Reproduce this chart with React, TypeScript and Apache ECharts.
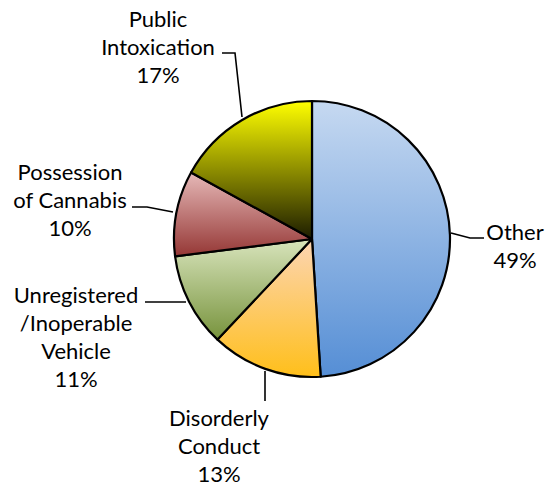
import React, { useEffect, useRef } from "react";
import * as echarts from "echarts";

const categories = [
  "Other",
  "Disorderly\nConduct",
  "Unregistered\n/Inoperable\nVehicle",
  "Possession\nof Cannabis",
  "Public\nIntoxication",
];
const values = [49, 13, 11, 10, 17];
const topColors = ["#c6d9f1", "#fcd5b4", "#d8e4bc", "#e6b9b8", "#ffff00"];
const bottomColors = ["#558ed5", "#ffbf1a", "#77933c", "#953735", "#1c1c00"];

// label layout (block centers) and leader lines
const labelPos = [
  { x: 515, y: 245, line: [[451, 233], [470, 238], [484, 238]] },
  { x: 219, y: 445, line: [[265, 371], [265, 386], [265, 401]] },
  { x: 76, y: 336, line: [[186, 302], [175, 302], [145, 302]] },
  { x: 70, y: 199, line: [[173, 212], [147, 207], [132, 207]] },
  { x: 158, y: 46, line: [[242, 117], [235, 53], [222, 53]] },
];

export default function App() {
  const ref = useRef<HTMLDivElement>(null);
  useEffect(() => {
    if (!ref.current) return;
    const chart = echarts.init(ref.current, null, { renderer: "svg" });
    const data = categories.map((name, i) => ({
      name,
      value: values[i],
      itemStyle: {
        color: new echarts.graphic.LinearGradient(0, 0, 0, 1, [
          { offset: 0, color: topColors[i] },
          { offset: 1, color: bottomColors[i] },
        ]),
      },
    }));
    chart.setOption({
      animation: false,
      backgroundColor: "#ffffff",
      series: [
        {
          type: "pie",
          center: [312, 239],
          radius: 138,
          startAngle: 90,
          clockwise: true,
          avoidLabelOverlap: false,
          data,
          itemStyle: { borderColor: "#000", borderWidth: 2.2 },
          emphasis: { disabled: true },
          label: {
            show: true,
            position: "outside",
            formatter: (p: any) => `${p.name}\n${Math.round(p.percent)}%`,
            color: "#000",
            fontFamily: "Lato",
            fontSize: 22,
            lineHeight: 28,
            align: "center",
          },
          labelLine: {
            show: true,
            lineStyle: { color: "#000", width: 1.6 },
          },
          labelLayout: (params: any) => {
            const p = labelPos[params.dataIndex];
            return {
              x: p.x,
              y: p.y,
              align: "center",
              verticalAlign: "middle",
              labelLinePoints: p.line,
            };
          },
        },
      ],
    });
    return () => chart.dispose();
  }, []);
  return (
    <div
      ref={ref}
      style={{ position: "fixed", left: 0, top: 0, width: 547, height: 488 }}
    />
  );
}
